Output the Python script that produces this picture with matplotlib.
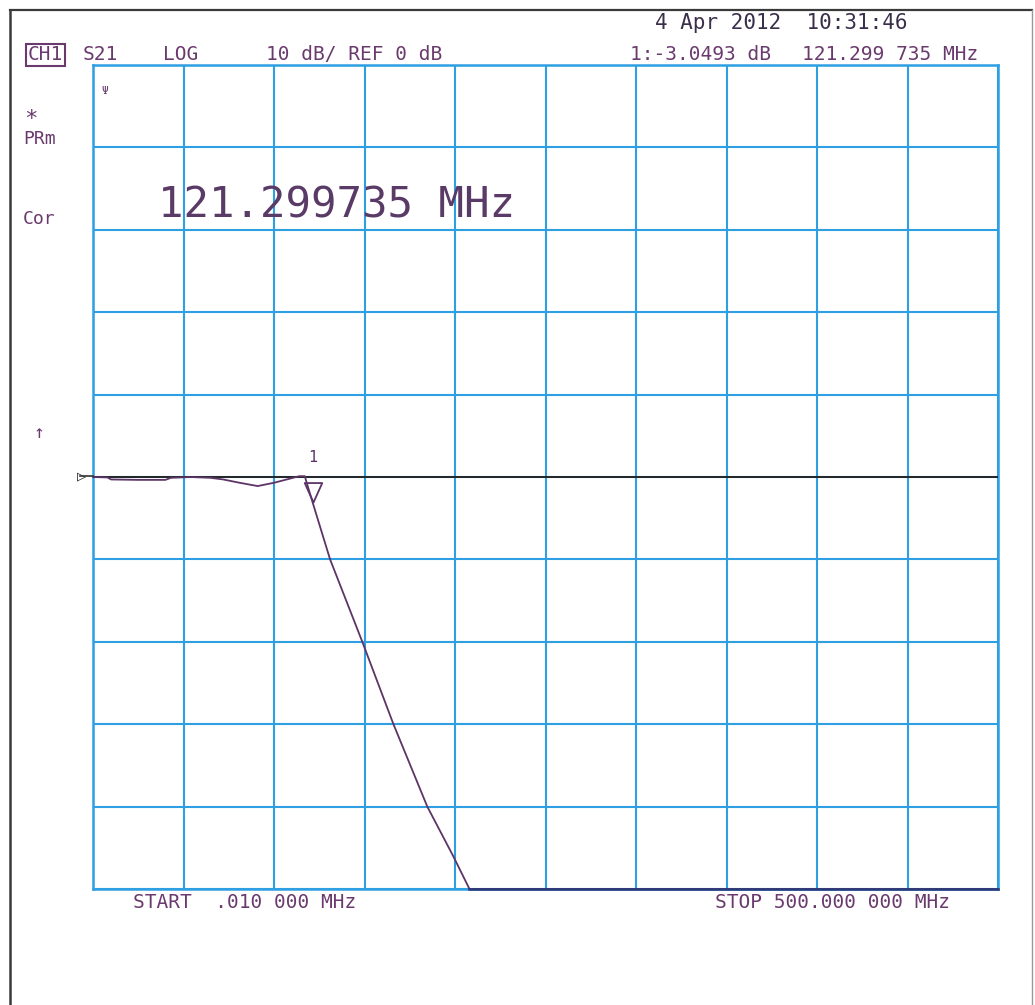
import matplotlib
matplotlib.use("Agg")
import matplotlib.pyplot as plt
from matplotlib.path import Path
from matplotlib.lines import Line2D

# ---- data ----
freq_mhz = [0.01, 8, 10, 25, 40, 43, 54, 65, 72, 81, 91, 100, 107, 114, 117,
            121.3, 131, 148.8, 166, 184.7, 199, 208, 500]
s21_db = [0.0, -0.05, -0.3, -0.35, -0.35, -0.1, 0.0, -0.1, -0.3, -0.7, -1.1,
          -0.7, -0.3, 0.1, 0.1, -3.05, -10, -20, -30, -40, -46, -50, -50]
marker_freq = 121.299735
marker_db = -3.0493
ref_db = 0.0
x_start, x_stop = 0.01, 500.0
y_top, y_bottom = 50, -50
x_ticks = [x_start + i * (x_stop - x_start) / 10 for i in range(11)]
y_ticks = [y_bottom + i * 10 for i in range(11)]

W, H = 1035, 1005
fig = plt.figure(figsize=(W / 100, H / 100), dpi=100)
fig.patch.set_facecolor("white")

def fx(px):
    return px / W

def fy(py):
    return 1 - py / H

grid_c = "#2e9fe3"
txt_c = "#6a3a6e"
trace_c = "#5c3466"
mono = "DejaVu Sans Mono"

ax = fig.add_axes([fx(93), fy(889), fx(998) - fx(93), fy(65) - fy(889)])
ax.set_xlim(x_start, x_stop)
ax.set_ylim(y_bottom, y_top)
ax.set_xticks(x_ticks)
ax.set_yticks(y_ticks)
ax.grid(True, color=grid_c, linewidth=1.5)
ax.tick_params(length=0, labelbottom=False, labelleft=False)
for s in ax.spines.values():
    s.set_color(grid_c)
    s.set_linewidth(1.8)
ax.set_axisbelow(True)

# reference line
ax.axhline(ref_db, color="#262626", linewidth=1.4, zorder=3)
# trace
ax.plot(freq_mhz, s21_db, color=trace_c, linewidth=1.3, zorder=4, clip_on=False)
# bottom clipped portion darker
ax.plot([208, 500], [-50, -50], color="#2a3a7a", linewidth=1.8, zorder=4, clip_on=False)

# marker triangle (tip at the trace point)
tri = Path([(0, 0), (-0.45, 1), (0.45, 1), (0, 0)],
           [Path.MOVETO, Path.LINETO, Path.LINETO, Path.CLOSEPOLY])
ax.plot([marker_freq], [marker_db], marker=tri, markersize=28,
        markerfacecolor="none", markeredgecolor=trace_c, markeredgewidth=1.3,
        zorder=5, clip_on=False)
ax.annotate("1", xy=(marker_freq, marker_db), xytext=(0, 27),
            textcoords="offset points", ha="center", va="bottom",
            fontsize=11, family=mono, color=trace_c)

# reference position indicator on left
fig.add_artist(Line2D([fx(80), fx(93)], [fy(476), fy(476)], color="#333333", lw=1.2))
fig.text(fx(77), fy(476), "\u25b7", fontsize=11, family=mono, color="#333333",
         ha="left", va="center")

# ---- annotation texts ----
fs = 14
def t(px, py, s, **kw):
    kw.setdefault("fontsize", fs)
    kw.setdefault("color", txt_c)
    kw.setdefault("family", mono)
    kw.setdefault("ha", "left")
    kw.setdefault("va", "center")
    fig.text(fx(px), fy(py), s, **kw)

t(655, 23, "4 Apr 2012  10:31:46", color="#3a2f4a", fontsize=15)
t(28, 55, "CH1", bbox=dict(boxstyle="square,pad=0.1", facecolor="none",
                           edgecolor=txt_c, linewidth=1.5))
t(83, 55, "S21")
t(163, 55, "LOG")
t(266, 55, "10 dB/ REF 0 dB")
t(630, 55, "1:-3.0493 dB")
t(802, 55, "121.299 735 MHz")
t(24, 119, "*", fontsize=16)
t(23, 139, "PRm", fontsize=13)
t(23, 219, "Cor", fontsize=13)
t(34, 433, "\u2191", fontsize=13)
t(101, 91, "\u03a8", fontsize=8)
t(158, 205, "121.299735 MHz", fontsize=30.5, color="#5a3a66")
t(133, 902, "START  .010 000 MHz")
t(715, 902, "STOP 500.000 000 MHz")

# outer frame
frame_c = "#3a3a3a"
fig.add_artist(Line2D([fx(10), fx(1032)], [fy(10), fy(10)], color=frame_c, lw=1.6))
fig.add_artist(Line2D([fx(10), fx(10)], [fy(10), 0], color=frame_c, lw=1.8))
fig.add_artist(Line2D([fx(1032), fx(1032)], [fy(10), 0], color="#9a9a9a", lw=1.0))

fig.savefig("out.png", dpi=100)
